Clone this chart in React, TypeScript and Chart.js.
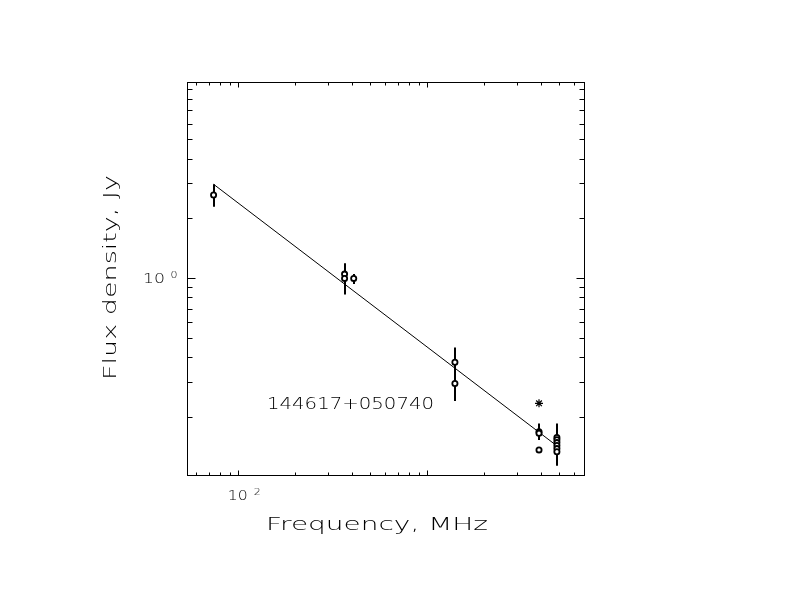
import React, { useEffect, useRef } from "react";
import { Chart, registerables } from "chart.js";

Chart.register(...registerables);

// ---- data (frequency in MHz, flux density in Jy) ----
const circleFreq = [74, 365, 365, 408, 1400, 1400, 3900, 3900, 3900, 4850, 4850, 4850, 4850, 4850, 4850];
const circleFlux = [2.62, 1.047, 0.996, 0.996, 0.376, 0.294, 0.168, 0.165, 0.136, 0.157, 0.153, 0.148, 0.143, 0.138, 0.133];
const errLow: (number | null)[] = [2.29, null, 0.827, 0.933, 0.31, 0.24, null, 0.1525, null, null, null, 0.113, null, null, null];
const errHigh: (number | null)[] = [2.97, null, 1.186, 1.047, 0.447, 0.35, null, 0.185, null, null, null, 0.185, null, null, null];
const starFreq = [3900];
const starFlux = [0.2335];
const fitFreq = [74, 4850];
const fitFlux = [2.97, 0.1425];

const xMajorTicks = [100, 1000];
const xMinorTicks = [60, 70, 80, 90, 200, 300, 400, 500, 600, 700, 800, 900, 2000, 3000, 4000, 5000, 6000];
const yMajorTicks = [1];
const yMinorTicks = [0.2, 0.3, 0.4, 0.5, 0.6, 0.7, 0.8, 0.9, 2, 3, 4, 5, 6, 7, 8, 9];

const xTickLabels = [{ value: 100, base: "10", exp: "2" }];
const yTickLabels = [{ value: 1, base: "10", exp: "0" }];
const xTitle = "Frequency, MHz";
const yTitle = "Flux density, Jy";
const sourceName = "144617+050740";

const FONT = '"DejaVu Sans"';

function drawStretched(ctx: CanvasRenderingContext2D, text: string, x: number, y: number, size: number, width: number, rotate = false) {
  ctx.save();
  ctx.translate(x, y);
  if (rotate) ctx.rotate(-Math.PI / 2);
  ctx.font = `300 ${size}px ${FONT}`;
  const w = ctx.measureText(text).width;
  ctx.scale(width / w, 1);
  ctx.textAlign = "center";
  ctx.textBaseline = "alphabetic";
  ctx.fillStyle = "#000";
  ctx.fillText(text, 0, 0);
  ctx.restore();
}

const axesPlugin = {
  id: "pgplotAxes",
  beforeDatasetsDraw(chart: any) {
    const ctx = chart.ctx as CanvasRenderingContext2D;
    const xs = chart.scales.x;
    const ys = chart.scales.y;
    ctx.save();
    ctx.strokeStyle = "#000";
    ctx.lineWidth = 2;
    for (let i = 0; i < circleFreq.length; i++) {
      const lo = errLow[i];
      const hi = errHigh[i];
      if (lo == null || hi == null) continue;
      const px = Math.round(xs.getPixelForValue(circleFreq[i]));
      ctx.beginPath();
      ctx.moveTo(px, ys.getPixelForValue(lo));
      ctx.lineTo(px, ys.getPixelForValue(hi));
      ctx.stroke();
    }
    ctx.restore();
  },
  afterDraw(chart: any) {
    const ctx = chart.ctx as CanvasRenderingContext2D;
    const { left, right, top, bottom } = chart.chartArea;
    const xs = chart.scales.x;
    const ys = chart.scales.y;
    ctx.save();
    ctx.strokeStyle = "#000";
    ctx.lineWidth = 1;
    ctx.strokeRect(Math.round(left) + 0.5, Math.round(top) + 0.5, Math.round(right - left), Math.round(bottom - top));
    const tick = (x1: number, y1: number, x2: number, y2: number) => {
      ctx.beginPath();
      ctx.moveTo(x1, y1);
      ctx.lineTo(x2, y2);
      ctx.stroke();
    };
    const L = Math.round(left) + 0.5, R = Math.round(right) + 0.5, T = Math.round(top) + 0.5, B = Math.round(bottom) + 0.5;
    xMinorTicks.forEach((v) => {
      const p = Math.round(xs.getPixelForValue(v)) + 0.5;
      tick(p, B, p, B - 3);
      tick(p, T, p, T + 3);
    });
    xMajorTicks.forEach((v) => {
      const p = Math.round(xs.getPixelForValue(v)) + 0.5;
      tick(p, B, p, B - 5);
      tick(p, T, p, T + 5);
    });
    yMinorTicks.forEach((v) => {
      const p = Math.round(ys.getPixelForValue(v)) + 0.5;
      tick(L, p, L + 5, p);
      tick(R, p, R - 5, p);
    });
    yMajorTicks.forEach((v) => {
      const p = Math.round(ys.getPixelForValue(v)) + 0.5;
      tick(L, p, L + 8, p);
      tick(R, p, R - 8, p);
    });

    xTickLabels.forEach((t) => {
      const px = xs.getPixelForValue(t.value);
      drawStretched(ctx, t.base, px - 0.5, bottom + 25, 14, 20);
      drawStretched(ctx, t.exp, px + 19, bottom + 20, 8, 7);
    });
    yTickLabels.forEach((t) => {
      const py = ys.getPixelForValue(t.value);
      drawStretched(ctx, t.base, left - 33, py + 5, 14, 22);
      drawStretched(ctx, t.exp, left - 13, py, 8, 7);
    });

    drawStretched(ctx, xTitle, 377, 530, 18, 222);
    drawStretched(ctx, yTitle, 116, 277.5, 18, 205, true);
    drawStretched(ctx, sourceName, 350.5, 408.5, 15, 167);
    ctx.restore();
  },
};

export default function App() {
  const ref = useRef<HTMLCanvasElement | null>(null);
  useEffect(() => {
    document.body.style.margin = "0";
    const canvas = ref.current!;
    const chart = new Chart(canvas, {
      type: "scatter",
      data: {
        datasets: [
          {
            label: "measurements",
            data: circleFreq.map((f, i) => ({ x: f, y: circleFlux[i] })),
            pointStyle: "circle",
            pointRadius: 2.6,
            pointBorderWidth: 1.8,
            pointBackgroundColor: "#fff",
            pointBorderColor: "#000",
            showLine: false,
            order: 0,
          },
          {
            label: "upper",
            data: starFreq.map((f, i) => ({ x: f, y: starFlux[i] })),
            pointStyle: "star",
            pointRadius: 4,
            pointBorderWidth: 1.2,
            pointBackgroundColor: "#000",
            pointBorderColor: "#000",
            showLine: false,
            order: 0,
          },
          {
            label: "fit",
            data: fitFreq.map((f, i) => ({ x: f, y: fitFlux[i] })),
            showLine: true,
            borderColor: "#000",
            borderWidth: 1,
            pointRadius: 0,
            fill: false,
            order: 1,
          },
        ],
      },
      options: {
        animation: false,
        responsive: false,
        devicePixelRatio: 1,
        layout: { padding: { left: 187, top: 82, right: 208, bottom: 137 } },
        plugins: { legend: { display: false }, tooltip: { enabled: false } },
        scales: {
          x: { type: "logarithmic", min: 53.53, max: 6747, display: false, bounds: "data" },
          y: { type: "logarithmic", min: 0.1016, max: 9.736, display: false, bounds: "data" },
        },
      },
      plugins: [axesPlugin],
    } as any);
    return () => chart.destroy();
  }, []);
  return (
    <div style={{ position: "absolute", left: 0, top: 0, width: 792, height: 612, background: "#fff" }}>
      <canvas ref={ref} width={792} height={612} style={{ width: 792, height: 612, display: "block" }} />
    </div>
  );
}
